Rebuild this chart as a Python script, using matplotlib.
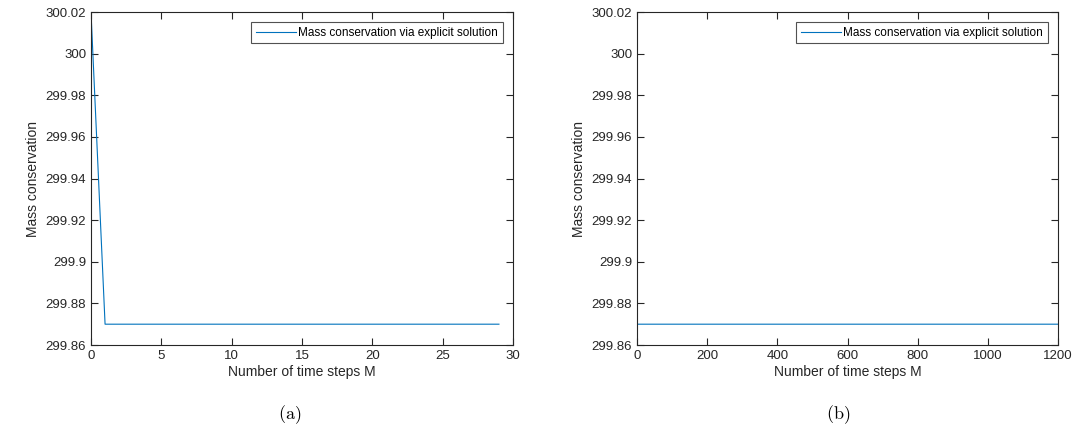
import matplotlib
matplotlib.use("Agg")
import matplotlib.pyplot as plt

# Data (key points of each series)
steps_a = [0, 1, 29]
mass_a = [300.02, 299.87, 299.87]
steps_b = [0, 1, 1200]
mass_b = [300.02, 299.87, 299.87]

xticks_a = [0, 5, 10, 15, 20, 25, 30]
xticks_b = [0, 200, 400, 600, 800, 1000, 1200]
yticks = [299.86, 299.88, 299.9, 299.92, 299.94, 299.96, 299.98, 300, 300.02]
ytick_labels = ["299.86", "299.88", "299.9", "299.92", "299.94", "299.96", "299.98", "300", "300.02"]
legend_label = "Mass conservation via explicit solution"
xlabel = "Number of time steps M"
ylabel = "Mass conservation"
captions = ["(a)", "(b)"]

plt.rcParams['font.family'] = ['Liberation Sans', 'DejaVu Sans']
plt.rcParams['mathtext.fontset'] = 'cm'

W, H = 1091, 440
fig = plt.figure(figsize=(W / 100, H / 100), dpi=100)

def px_axes(l, r, t, b):
    return fig.add_axes([l / W, 1 - b / H, (r - l) / W, (b - t) / H])

panels = [
    (px_axes(91, 513, 12, 345), steps_a, mass_a, xticks_a, (0, 30), 290),
    (px_axes(637, 1058, 12, 345), steps_b, mass_b, xticks_b, (0, 1200), 838),
]

for i, (ax, xs, ys, xt, xl, capx) in enumerate(panels):
    ax.plot(xs, ys, color="#0072BD", lw=0.8, label=legend_label)
    ax.set_xlim(*xl)
    ax.set_ylim(299.86, 300.02)
    ax.set_xticks(xt)
    ax.set_yticks(yticks)
    ax.set_yticklabels(ytick_labels)
    ax.tick_params(direction="in", length=5, width=0.8, labelsize=9.5,
                   top=True, right=True, colors="#262626", labelcolor="#262626")
    for s in ax.spines.values():
        s.set_linewidth(0.8)
        s.set_color("#262626")
    ax.set_xlabel(xlabel, fontsize=10, color="#262626", labelpad=2)
    ax.set_ylabel(ylabel, fontsize=10, color="#262626", labelpad=4)
    leg = ax.legend(loc="upper right", fontsize=8.5, frameon=True, fancybox=False,
                    edgecolor="#262626", handlelength=3.4, borderpad=0.4,
                    handletextpad=0.2, borderaxespad=0.85)
    leg.get_frame().set_linewidth(0.8)
    fig.text(capx / W, 1 - 415 / H, r"$\mathrm{" + captions[i] + "}$",
             ha="center", va="center", fontsize=13)

fig.savefig("out.png", dpi=100)
